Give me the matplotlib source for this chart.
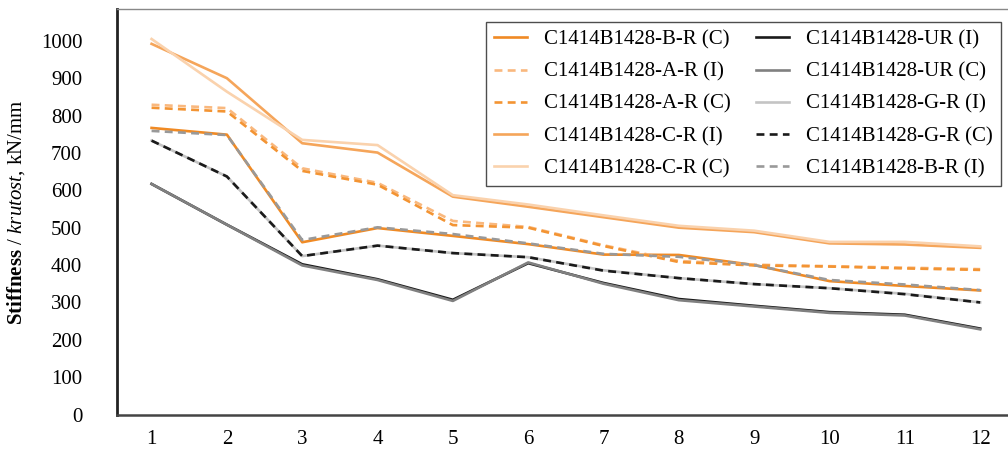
import matplotlib
matplotlib.use("Agg")
import matplotlib.pyplot as plt

plt.rcParams['font.family'] = ['Liberation Serif', 'DejaVu Serif']
plt.rcParams['mathtext.fontset'] = 'custom'
plt.rcParams['mathtext.rm'] = 'Liberation Serif'
plt.rcParams['mathtext.it'] = 'Liberation Serif:italic'
plt.rcParams['mathtext.bf'] = 'Liberation Serif:bold'

x = [1, 2, 3, 4, 5, 6, 7, 8, 9, 10, 11, 12]

b_r_c = [767, 749, 461, 499, 478, 456, 428, 427, 400, 357, 344, 332]
a_r_i = [829, 820, 659, 620, 518, 502, 453, 411, 401, 397, 393, 389]
a_r_c = [821, 811, 652, 615, 507, 500, 451, 408, 399, 396, 391, 387]
c_r_i = [992, 900, 726, 701, 583, 556, 528, 500, 488, 458, 455, 446]
c_r_c = [1005, 864, 735, 721, 587, 562, 533, 505, 492, 462, 462, 450]
ur_i = [617, 508, 402, 362, 307, 405, 352, 309, 291, 274, 267, 230]
ur_c = [617, 508, 399, 360, 304, 407, 350, 306, 289, 272, 265, 228]
g_r_i = [733, 637, 424, 452, 432, 421, 386, 365, 349, 338, 323, 300]
g_r_c = [733, 637, 424, 452, 432, 421, 385, 365, 349, 338, 322, 300]
b_r_i = [759, 748, 467, 501, 483, 458, 430, 422, 400, 360, 348, 333]

series = [
    ("C1414B1428-B-R (C)", b_r_c, "#f08a24", "-"),
    ("C1414B1428-A-R (I)", a_r_i, "#f9b87e", "--"),
    ("C1414B1428-A-R (C)", a_r_c, "#f39433", "--"),
    ("C1414B1428-C-R (I)", c_r_i, "#f5a55a", "-"),
    ("C1414B1428-C-R (C)", c_r_c, "#fad2ad", "-"),
    ("C1414B1428-UR (I)", ur_i, "#1a1a1a", "-"),
    ("C1414B1428-UR (C)", ur_c, "#808080", "-"),
    ("C1414B1428-G-R (I)", g_r_i, "#c4c4c4", "-"),
    ("C1414B1428-G-R (C)", g_r_c, "#1a1a1a", "--"),
    ("C1414B1428-B-R (I)", b_r_i, "#999999", "--"),
]

fig = plt.figure(figsize=(10.08, 4.55), dpi=100)
ax = fig.add_axes([0.116, 0.089, 0.884, 0.891])

for label, vals, col, ls in series:
    ax.plot(x, vals, color=col, linestyle=ls, linewidth=1.9, label=label,
            dashes=(3, 2) if ls == "--" else (None, None))

ax.set_xlim(0.54, 12.37)
ax.set_ylim(0, 1085)
ax.set_xticks(x)
ax.set_yticks(range(0, 1001, 100))
ax.tick_params(length=0, labelsize=15)
ax.tick_params(axis='y', pad=25)
ax.tick_params(axis='x', pad=11)

ax.spines['left'].set_color('#222222')
ax.spines['left'].set_linewidth(2)
ax.spines['bottom'].set_color('#444444')
ax.spines['bottom'].set_linewidth(1.8)
ax.spines['top'].set_color('#888888')
ax.spines['top'].set_linewidth(1)
ax.spines['right'].set_visible(False)

ax.set_ylabel(r"$\mathbf{Stiffness}$ / $\mathit{krutost}$, kN/mm", fontsize=15, labelpad=10)

leg = fig.legend(ncol=2, loc='upper right', bbox_to_anchor=(0.993, 0.952),
                 fontsize=15, frameon=True, fancybox=False, borderaxespad=0,
                 handlelength=1.6, columnspacing=1.2, labelspacing=0.6,
                 borderpad=0.4)
leg.get_frame().set_edgecolor('#222222')
leg.get_frame().set_linewidth(1)

fig.savefig("out.png", dpi=100)
